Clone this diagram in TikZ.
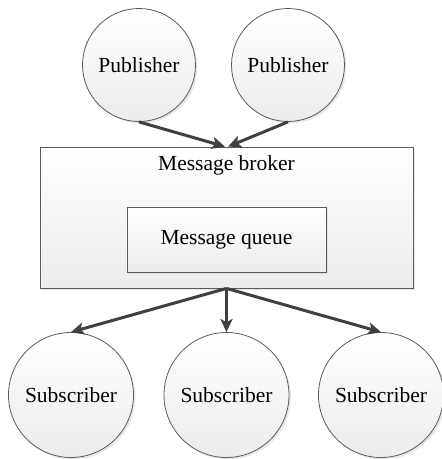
\documentclass[tikz,border=0pt]{standalone}
\usepackage{tikz}
\usepackage{xcolor}
\usepackage{fontspec}
\setmainfont{Liberation Serif}
\usetikzlibrary{arrows.meta,shadows}

\begin{document}
\begin{tikzpicture}[x=1pt,y=-1pt,
  font=\fontsize{21.5}{26}\selectfont,
  mybox/.style={draw=boxline,line width=0.8pt,top color=white,bottom color=boxfill,
    drop shadow={opacity=0.18,shadow xshift=2pt,shadow yshift=-2pt}},
  pubnode/.style={mybox,circle,minimum size=113,inner sep=0pt},
  subnode/.style={mybox,circle,minimum size=125,inner sep=0pt},
  myarrow/.style={draw=arrowgray,line width=3pt,-{Stealth[length=13pt,width=12pt,inset=3pt]}}]
\definecolor{boxline}{HTML}{5A5A5A}
\definecolor{boxfill}{HTML}{ECECEC}
\definecolor{arrowgray}{HTML}{404040}
\useasboundingbox (0,0) rectangle (442,459);
% publishers
  \foreach \nm/\xpos in {pub1/139,pub2/288}
  {  \node [pubnode] (\nm) at (\xpos,65) {Publisher};}
% broker with its queue
\node [mybox,rectangle,minimum width=373,minimum height=141] (broker) at (226.5,217.5) {};
\node (brokerlabel) at (226.5,165) {Message broker};
\node [mybox,rectangle,minimum width=199,minimum height=65] (queue) at (226.5,239.5) {Message queue};
% subscribers
  \foreach \nm/\xpos in {sub1/71,sub2/226.5,sub3/381}
  {  \node [subnode] (\nm) at (\xpos,395) {Subscriber};}
\draw [myarrow] (pub1.south) -- ([xshift=-1.5pt]broker.north);
\draw [myarrow] (pub2.south) -- ([xshift=1.5pt]broker.north);
  \foreach \nm in {sub1,sub2,sub3}
  {  \draw [myarrow] (broker.south) -- (\nm.north);}
\end{tikzpicture}
\end{document}
